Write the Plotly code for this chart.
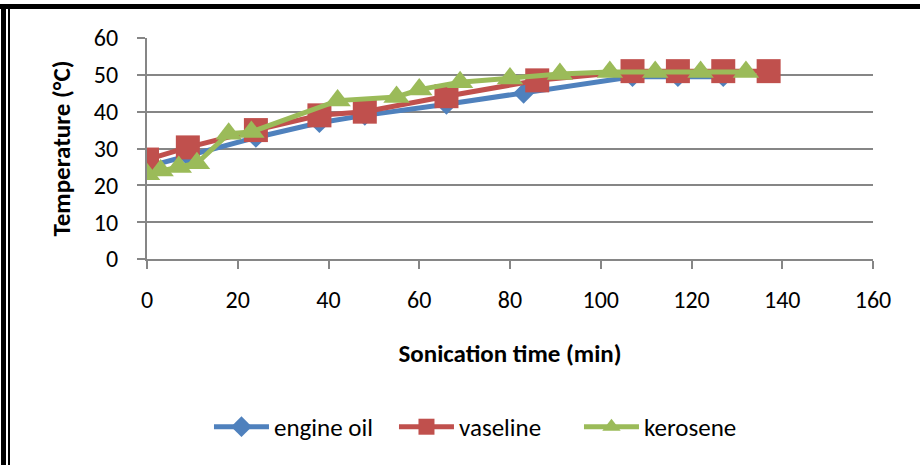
import plotly.graph_objects as go

# ---- data ----
oil_time = [0, 9, 24, 38, 48, 66, 83, 107, 117, 127]
oil_temp = [25, 28, 33, 37, 39, 42, 45, 49.5, 49.5, 49.5]

vas_time = [0, 9, 24, 38, 48, 66, 86, 107, 117, 127, 137]
vas_temp = [27, 30.3, 35, 39, 40, 44.2, 48.5, 51, 51, 51, 51]

ker_time = [0, 3, 7, 11, 18, 23, 42, 55, 60, 69, 80, 91, 102, 112, 122, 132]
ker_temp = [23, 24, 25, 26, 34, 34.5, 43, 44, 46, 48, 49, 50.2, 50.8, 50.8, 50.8, 50.8]

x_ticks = [0, 20, 40, 60, 80, 100, 120, 140, 160]
y_ticks = [0, 10, 20, 30, 40, 50, 60]

FONT = "Carlito, Lato, 'Liberation Sans Narrow', sans-serif"

fig = go.Figure()
fig.add_trace(go.Scatter(x=oil_time, y=oil_temp, name="engine oil", mode="lines+markers",
                         line=dict(color="#4F81BD", width=5),
                         marker=dict(symbol="diamond", size=16, color="#4F81BD")))
fig.add_trace(go.Scatter(x=vas_time, y=vas_temp, name="vaseline", mode="lines+markers",
                         line=dict(color="#C0504D", width=5),
                         marker=dict(symbol="square", size=24, color="#C0504D")))
fig.add_trace(go.Scatter(x=ker_time, y=ker_temp, name="kerosene", mode="lines+markers",
                         line=dict(color="#9BBB59", width=5),
                         marker=dict(symbol="triangle-up", size=23, color="#9BBB59")))

axis_common = dict(showline=True, linecolor="#868686", linewidth=2,
                   gridcolor="#868686", gridwidth=1.5,
                   ticks="outside", ticklen=8, tickcolor="#868686", tickwidth=2,
                   zeroline=False, tickfont=dict(family=FONT, size=24, color="#000"))

fig.update_xaxes(range=[0, 160], tickvals=x_ticks, showgrid=False,
                 ticklabelstandoff=10,
                 title=dict(text="<b>Sonication time (min)</b>", font=dict(family=FONT, size=25, color="#000"),
                            standoff=32),
                 **axis_common)
fig.update_yaxes(range=[0, 60], tickvals=y_ticks, showgrid=True,
                 ticklabelstandoff=14,
                 title=dict(text="<b>Temperature (°C)</b>", font=dict(family=FONT, size=25, color="#000"),
                            standoff=16),
                 **axis_common)

fig.update_layout(
    width=920, height=465,
    margin=dict(l=147, r=47, t=38, b=206),
    paper_bgcolor="white", plot_bgcolor="white",
    showlegend=True,
    legend=dict(orientation="h", x=0.4676, xanchor="center", y=-0.76, yanchor="middle",
                font=dict(family=FONT, size=25, color="#000"), itemwidth=55,
                entrywidth=115, entrywidthmode="pixels",
                traceorder="normal"),
    shapes=[
        dict(type="line", xref="paper", yref="paper", x0=-0.21, x1=1.1, y0=(259 - 6.5) / 221, y1=(259 - 6.5) / 221,
             line=dict(color="black", width=5)),
        dict(type="line", xref="paper", yref="paper", x0=(3.5 - 147) / 726, x1=(3.5 - 147) / 726,
             y0=-1.0, y1=(259 - 4) / 221, line=dict(color="black", width=5)),
        dict(type="line", xref="paper", yref="paper", x0=(9 - 147) / 726, x1=(9 - 147) / 726,
             y0=-1.0, y1=(259 - 9) / 221, line=dict(color="black", width=2)),
    ],
)

fig.write_html("out.html", config={"displayModeBar": False},
               post_script="document.body.style.margin='0';")
